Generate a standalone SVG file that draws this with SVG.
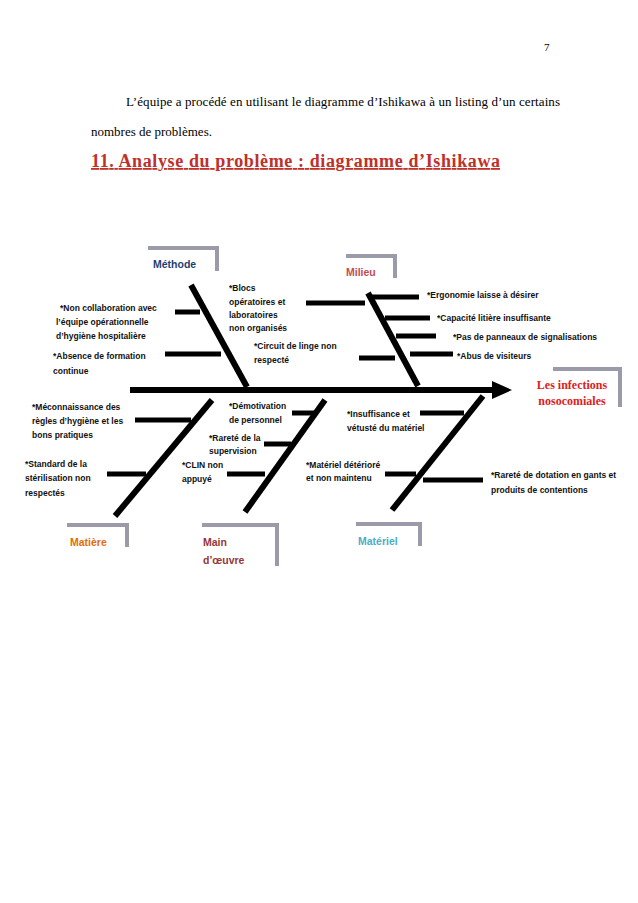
<svg xmlns="http://www.w3.org/2000/svg" width="638" height="903" viewBox="0 0 638 903">
<style>
.t{font-family:"Liberation Sans",Arial,sans-serif;font-size:8.5px;font-weight:bold;fill:#111}
.b{stroke:#000;stroke-width:6;fill:none}
.r{stroke:#000;stroke-width:5;fill:none}
.box{stroke:#9a9aa8;stroke-width:4;fill:none}
.cat{font-family:"Liberation Sans",Arial,sans-serif;font-size:10.5px;font-weight:bold}
.tm{font-family:"Liberation Serif","Times New Roman",serif}
</style>
<rect width="638" height="903" fill="#fff"/>
<text x="544" y="51" class="tm" font-size="11">7</text>
<text x="126" y="106" class="tm" font-size="13" textLength="434">L’équipe a procédé en utilisant le diagramme d’Ishikawa à un listing d’un certains</text>
<text x="91" y="136" class="tm" font-size="13">nombres de problèmes.</text>
<text x="91" y="167" class="tm" font-size="18" font-weight="bold" fill="#c0302a" text-decoration="underline" textLength="409">11. Analyse du problème : diagramme d’Ishikawa</text>
<g id="connectors">
<line class="b" x1="130" y1="390" x2="495" y2="390"/>
<polygon points="492,381 512,390 492,399" fill="#000"/>
<line class="b" x1="191" y1="285" x2="247" y2="387"/>
<line class="r" x1="175" y1="312" x2="200" y2="312"/>
<line class="r" x1="165" y1="354" x2="221" y2="354"/>
<line class="b" x1="368" y1="293" x2="418" y2="386"/>
<line class="r" x1="306" y1="303" x2="365" y2="303"/>
<line class="r" x1="372" y1="297" x2="419" y2="297"/>
<line class="r" x1="385" y1="318" x2="430" y2="318"/>
<line class="r" x1="396" y1="336" x2="436" y2="336"/>
<line class="r" x1="359" y1="358" x2="395" y2="358"/>
<line class="r" x1="410" y1="354" x2="453" y2="354"/>
<line class="b" x1="212" y1="400" x2="115" y2="516"/>
<line class="r" x1="135" y1="420" x2="191" y2="420"/>
<line class="r" x1="107" y1="474" x2="146" y2="474"/>
<line class="b" x1="325" y1="400" x2="245" y2="512"/>
<line class="r" x1="292" y1="413" x2="315" y2="413"/>
<line class="r" x1="264" y1="444" x2="291" y2="444"/>
<line class="r" x1="227" y1="474" x2="265" y2="474"/>
<line class="b" x1="483" y1="396" x2="392" y2="510"/>
<line class="r" x1="420" y1="413" x2="464" y2="413"/>
<line class="r" x1="385" y1="474" x2="416" y2="474"/>
<line class="r" x1="423" y1="480" x2="483" y2="480"/>
</g>
<g id="methode"><polyline class="box" points="148,248 217,248 217,271"/><text x="153" y="268" class="cat" fill="#1f3f6e">Méthode</text></g>
<g id="milieu"><polyline class="box" points="346,256 395,256 395,278"/><text x="346" y="276" class="cat" fill="#c0504d">Milieu</text></g>
<g id="effet"><polyline class="box" points="553,369 620,369 620,407"/><text x="572" y="389" class="tm" font-size="12" font-weight="bold" fill="#e02020" text-anchor="middle">Les infections</text><text x="572" y="405" class="tm" font-size="12" font-weight="bold" fill="#e02020" text-anchor="middle">nosocomiales</text></g>
<g id="matiere"><polyline class="box" points="67,525 127,525 127,547"/><text x="70" y="546" class="cat" fill="#e36c09">Matière</text></g>
<g id="main"><polyline class="box" points="202,525 277,525 277,566"/><text x="203" y="546" class="cat" fill="#953734">Main</text><text x="203" y="564" class="cat" fill="#953734">d’œuvre</text></g>
<g id="materiel"><polyline class="box" points="356,524 420,524 420,546"/><text x="358" y="545" class="cat" fill="#4bacc6">Matériel</text></g>
<g id="labels">
<text class="t" x="229" y="291">*Blocs</text><text class="t" x="229" y="305">opératoires et</text><text class="t" x="229" y="318">laboratoires</text><text class="t" x="229" y="331">non organisés</text>
<text class="t" x="60" y="311">*Non collaboration avec</text><text class="t" x="56" y="325">l’équipe opérationnelle</text><text class="t" x="56" y="339">d’hygiène hospitalière</text>
<text class="t" x="53" y="359">*Absence de formation</text><text class="t" x="53" y="374">continue</text>
<text class="t" x="254" y="349">*Circuit de linge non</text><text class="t" x="254" y="363">respecté</text>
<text class="t" x="427" y="298">*Ergonomie laisse à désirer</text>
<text class="t" x="437" y="321">*Capacité litière insuffisante</text>
<text class="t" x="453" y="340">*Pas de panneaux de signalisations</text>
<text class="t" x="457" y="359">*Abus de visiteurs</text>
<text class="t" x="32" y="410">*Méconnaissance des</text><text class="t" x="32" y="424">règles d’hygiène et les</text><text class="t" x="32" y="438">bons pratiques</text>
<text class="t" x="25" y="467">*Standard de la</text><text class="t" x="25" y="481">stérilisation non</text><text class="t" x="25" y="496">respectés</text>
<text class="t" x="229" y="409">*Démotivation</text><text class="t" x="229" y="423">de personnel</text>
<text class="t" x="209" y="441">*Rareté de la</text><text class="t" x="209" y="454">supervision</text>
<text class="t" x="182" y="468">*CLIN non</text><text class="t" x="182" y="482">appuyé</text>
<text class="t" x="347" y="417">*Insuffisance et</text><text class="t" x="347" y="431">vétusté du matériel</text>
<text class="t" x="306" y="468">*Matériel détérioré</text><text class="t" x="306" y="481">et non maintenu</text>
<text class="t" x="491" y="478">*Rareté de dotation en gants et</text><text class="t" x="491" y="493">produits  de contentions</text>
</g>
</svg>
